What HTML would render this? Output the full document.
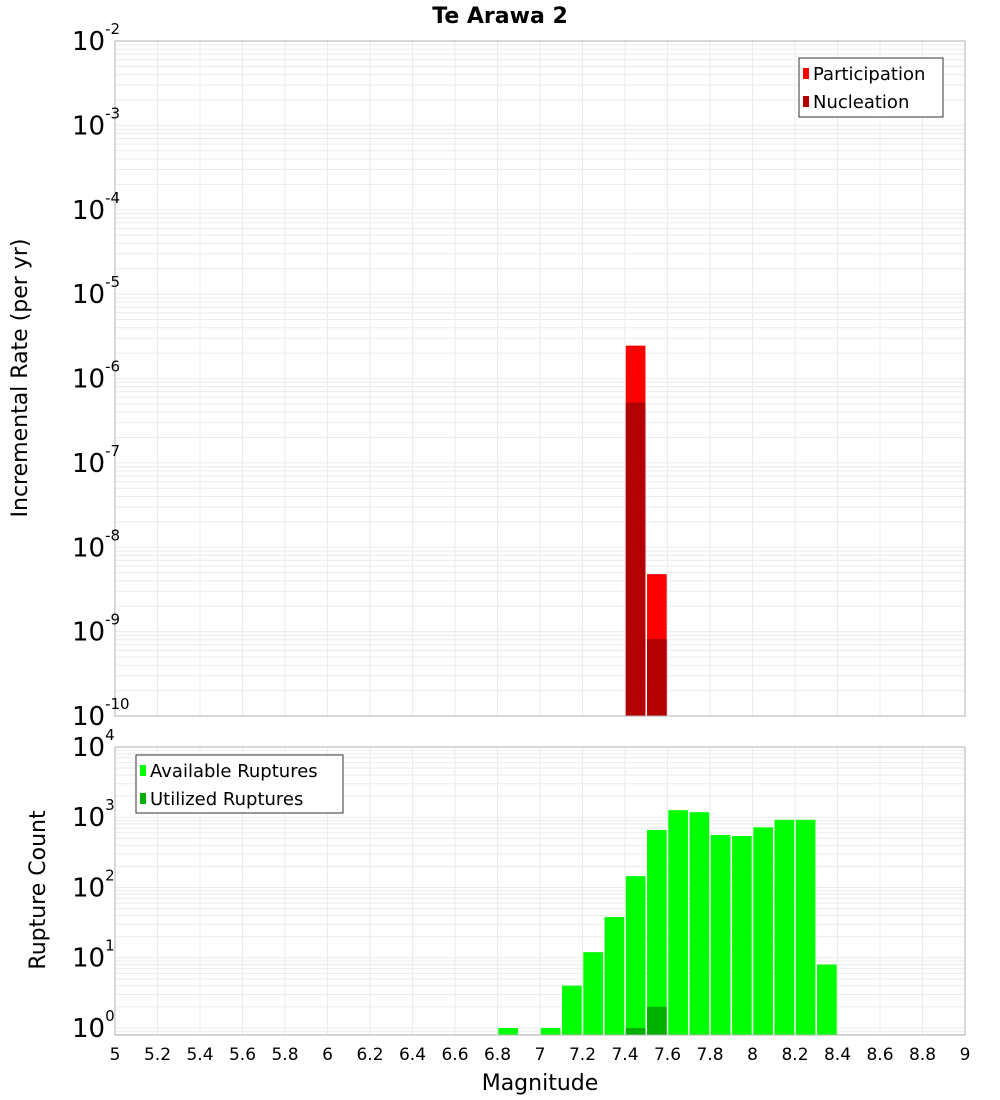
<!DOCTYPE html>
<html><head><meta charset="utf-8"><style>
body{margin:0;background:#fff;}
svg{display:block;font-family:"DejaVu Sans","Liberation Sans",sans-serif;}
</style></head><body>
<svg id="chart" width="1000" height="1100" viewBox="0 0 1000 1100">
<text x="500" y="23" text-anchor="middle" font-size="22" font-weight="bold">Te Arawa 2</text>
<g id="top"></g><g id="bot"></g>
<text transform="translate(27,378) rotate(-90)" text-anchor="middle" font-size="22">Incremental Rate (per yr)</text>
<text transform="translate(45,890) rotate(-90)" text-anchor="middle" font-size="22">Rupture Count</text>
<text x="540" y="1090" text-anchor="middle" font-size="22">Magnitude</text>
</svg>
<script>
const binStarts=[7.4,7.5];
const participation=[2.45e-6,4.8e-9];
const nucleation=[5.2e-7,8.2e-10];
const ruptBins=[6.8,7.0,7.1,7.2,7.3,7.4,7.5,7.6,7.7,7.8,7.9,8.0,8.1,8.2,8.3];
const available=[1,1,4,12,38,145,660,1260,1180,560,540,720,920,920,8];
const utilBins=[7.4,7.5];
const utilized=[1,2];
const xTicks=[5,5.2,5.4,5.6,5.8,6,6.2,6.4,6.6,6.8,7,7.2,7.4,7.6,7.8,8,8.2,8.4,8.6,8.8,9];
const topExp=[-2,-3,-4,-5,-6,-7,-8,-9,-10];
const botExp=[0,1,2,3,4];

const NS="http://www.w3.org/2000/svg";
const L=115,R=965;
const x=m=>L+(m-5)/4*(R-L);
function mk(p,tag,a){const e=document.createElementNS(NS,tag);for(const k in a)e.setAttribute(k,a[k]);p.appendChild(e);return e;}
function panel(g,top,bot,minE,maxE,lo,name){
  const y=v=>bot-(Math.log10(v)-lo)/(maxE-lo)*(bot-top)*((maxE-lo)/(maxE-lo));
  const yy=v=>top+(maxE-Math.log10(v))/(maxE-lo)*(bot-top);
  for(let e=Math.floor(lo);e<maxE;e++)for(let k=1;k<10;k++){const v=k*Math.pow(10,e);const py=yy(v);if(py<top-0.1||py>bot+0.1)continue;
    const l=mk(g,'line',{x1:L,x2:R,y1:py,y2:py,stroke:'#ebebeb','stroke-width':1});
    }
  xTicks.forEach(t=>{const l=mk(g,'line',{x1:x(t),x2:x(t),y1:top,y2:bot,stroke:'#ebebeb','stroke-width':1});
    });
  return yy;
}
const gt=document.getElementById('top'),gb=document.getElementById('bot');
const T1=41,B1=716,T2=747,B2=1035;
const yt=panel(gt,T1,B1,-10,-2,-10,'top');
const yb=panel(gb,T2,B2,0,4,-0.1,'bot');
const bw=(x(5.1)-x(5))-1.6;
binStarts.forEach((m,i)=>{
  let r=mk(gt,'rect',{x:x(m)+0.8,y:yt(participation[i]),width:bw,height:B1-yt(participation[i]),fill:'#ff0000'});
  
  r=mk(gt,'rect',{x:x(m)+0.8,y:yt(nucleation[i]),width:bw,height:B1-yt(nucleation[i]),fill:'#b30000'});
  
});
ruptBins.forEach((m,i)=>{
  const r=mk(gb,'rect',{x:x(m)+0.8,y:yb(available[i]),width:bw,height:B2-yb(available[i]),fill:'#00ff00'});
  
});
utilBins.forEach((m,i)=>{
  const r=mk(gb,'rect',{x:x(m)+0.8,y:yb(utilized[i]),width:bw,height:B2-yb(utilized[i]),fill:'#00b000'});
  
});
[[gt,T1,B1],[gb,T2,B2]].forEach(([g,t,b])=>{const f=mk(g,'rect',{x:L,y:t,width:R-L,height:b-t,fill:'none',stroke:'#b0b0b0','stroke-width':1});
  });
function ylab(g,py,e,fs){const t=mk(g,'text',{x:108,y:py+9,'text-anchor':'end','font-size':fs});
  
  const a=document.createElementNS(NS,'tspan');a.textContent='10';t.appendChild(a);
  const s=document.createElementNS(NS,'tspan');s.setAttribute('dy','-16');s.setAttribute('font-size','15');s.textContent=String(e).replace('-','-');t.appendChild(s);
  t.setAttribute('x',72);t.setAttribute('text-anchor','start');}
topExp.forEach(e=>ylab(gt,yt(Math.pow(10,e)),e,26));
botExp.forEach(e=>ylab(gb,yb(Math.pow(10,e)),e,26));
xTicks.forEach(t=>{const e=mk(gb,'text',{x:x(t),y:1060,'text-anchor':'middle','font-size':17});e.textContent=String(t);
  });
function legend(g,bx,by,w,h,items){const b=mk(g,'rect',{x:bx,y:by,width:w,height:h,fill:'#fff',stroke:'#333','stroke-width':1});
  
  items.forEach(([c,lab],i)=>{const s=mk(g,'rect',{x:bx+4,y:by+10+i*28,width:6,height:11,fill:c});
    
    const t=mk(g,'text',{x:bx+14,y:by+22+i*28,'font-size':18});t.textContent=lab;
    });}
legend(gt,799,58,144,59,[['#ff0000','Participation'],['#b30000','Nucleation']]);
legend(gb,136,755,207,58,[['#00ff00','Available Ruptures'],['#00b000','Utilized Ruptures']]);
</script>
</body></html>
